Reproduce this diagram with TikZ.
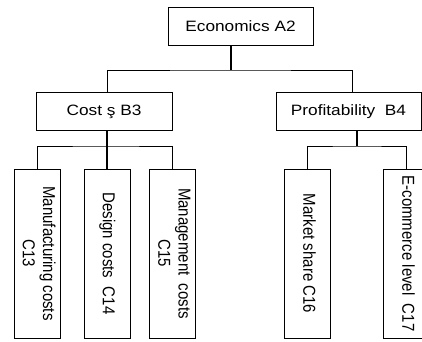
\documentclass[tikz,border=0pt]{standalone}
\usepackage{fontspec}
\setmainfont{Liberation Sans}
\newcommand{\hlab}[1]{\scalebox{1.15}[1]{#1}}
\newcommand{\vlab}[1]{\rotatebox{-90}{\scalebox{1}[1.15]{\begin{tabular}{@{}c@{}}#1\end{tabular}}}}
\begin{document}
\begin{tikzpicture}[x=1pt,y=-1pt,
  every node/.style={font=\fontsize{15pt}{17.5pt}\selectfont, inner sep=0pt},
  hbox/.style={draw, line width=0.8pt, minimum height=38pt},
  vbox/.style={draw, line width=0.8pt, minimum width=46pt, minimum height=169pt},
  conn/.style={line width=0.8pt},
  trunk/.style={line width=1.4pt}]
\useasboundingbox (0,0) rectangle (422,341);
% level A
\node[hbox, minimum width=145pt] (A) at (240.5,26.5) {\hlab{Economics A2}};
% level B
\node[hbox, minimum width=136pt] (B3) at (104,111.5) {\hlab{Cost ş B3}};
\node[hbox, minimum width=145pt] (B4) at (348.5,111.5) {\hlab{Profitability\ \ B4}};
% level C
\node[vbox] (C13) at (37,253.5) {\vlab{Manufacturing costs\\C13}};
\node[vbox] (C14) at (107,253.5) {\vlab{Design costs\ \ C14}};
\node[vbox] (C15) at (172.5,253.5) {\vlab{Management\ \ costs\\C15}};
\node[vbox] (C16) at (307.5,253.5) {\vlab{Market share C16}};
\node[vbox] (C17) at (406.5,253.5) {\vlab{E-commerce level\ \ C17}};
% junctions
\coordinate (jA) at (231,70);
\coordinate (jB) at (107,146);
\coordinate (jC) at (357,146);
% connectors
\draw[trunk] (A.south -| jA) -- (jA);
\draw[conn] ([xshift=3pt]B3.north) |- (jA) -| ([xshift=3.5pt]B4.north);
\draw[trunk] ([xshift=3pt]B3.south) -- (C14.north);
\draw[conn] (C13.north) |- (jB) -| (C15.north);
\draw[trunk] (B4.south -| jC) -- (jC);
\draw[conn] (C16.north) |- (jC) -| (C17.north);
\end{tikzpicture}
\end{document}
